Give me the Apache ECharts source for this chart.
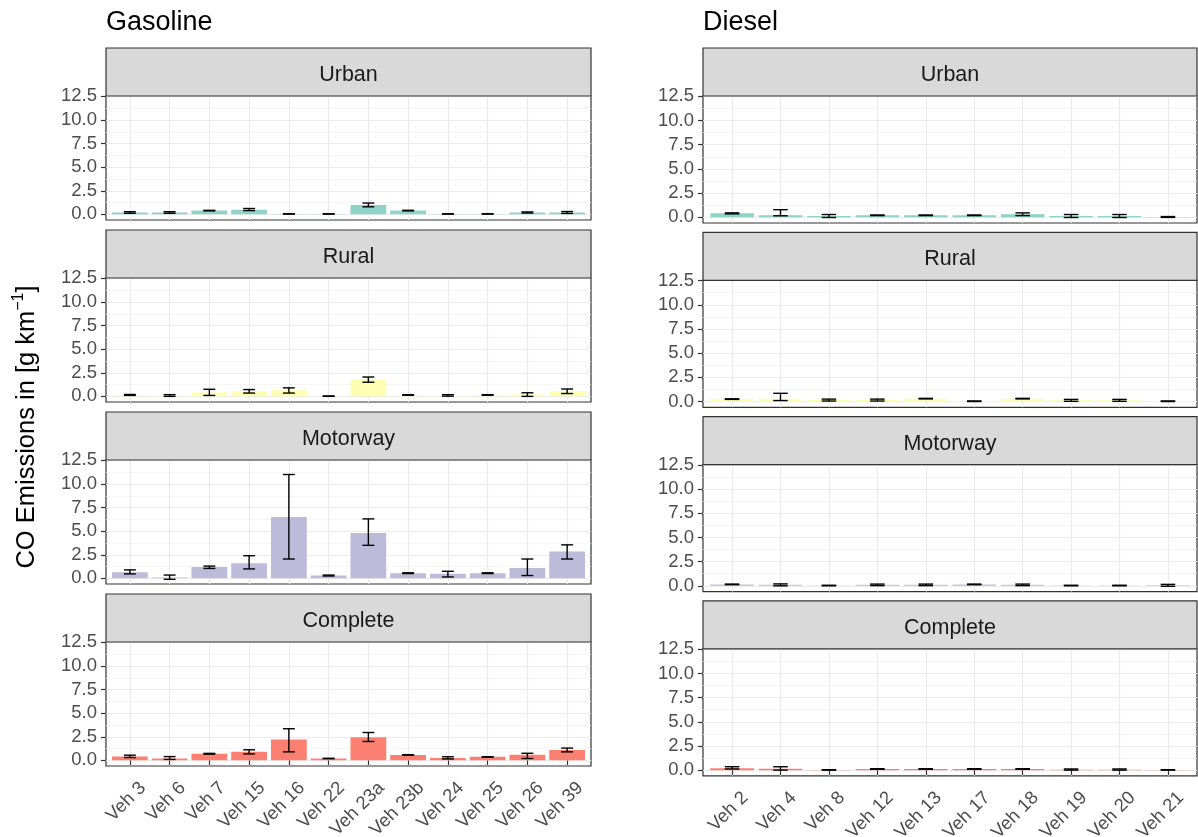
<!DOCTYPE html>
<html><head><meta charset="utf-8">
<script src="https://cdn.jsdelivr.net/npm/echarts@6/dist/echarts.min.js"></script>
<style>html,body{margin:0;padding:0;background:#fff}#c{width:1198px;height:837px}</style>
</head><body><div id="c"></div>
<script>
// ---------- data ----------
const gasolineVehicles = ['Veh 3','Veh 6','Veh 7','Veh 15','Veh 16','Veh 22','Veh 23a','Veh 23b','Veh 24','Veh 25','Veh 26','Veh 39'];
const dieselVehicles = ['Veh 2','Veh 4','Veh 8','Veh 12','Veh 13','Veh 17','Veh 18','Veh 19','Veh 20','Veh 21'];
const cycles = ['Urban','Rural','Motorway','Complete'];
const cycleColors = ['#8DD3C7','#FFFFB3','#BEBADA','#FB8072'];
const yTicks = [0, 2.5, 5, 7.5, 10, 12.5];
const yMinorTicks = [1.25, 3.75, 6.25, 8.75, 11.25];

// Gasoline
const gasUrbanMean = [0.2, 0.2, 0.4, 0.5, 0.05, 0.05, 1.0, 0.4, 0.05, 0.05, 0.2, 0.2];
const gasUrbanLow  = [0.12, 0.12, 0.37, 0.4, 0.03, 0.03, 0.8, 0.37, 0.03, 0.03, 0.14, 0.1];
const gasUrbanHigh = [0.28, 0.28, 0.43, 0.62, 0.07, 0.07, 1.2, 0.43, 0.07, 0.07, 0.26, 0.3];

const gasRuralMean = [0.15, 0.1, 0.4, 0.55, 0.65, 0.02, 1.85, 0.15, 0.1, 0.15, 0.2, 0.55];
const gasRuralLow  = [0.1, 0.0, 0.1, 0.35, 0.35, 0.0, 1.5, 0.12, 0.02, 0.12, 0.0, 0.3];
const gasRuralHigh = [0.2, 0.18, 0.75, 0.72, 0.9, 0.04, 2.05, 0.18, 0.18, 0.18, 0.38, 0.78];

const gasMotorwayMean = [0.65, 0.1, 1.2, 1.6, 6.5, 0.3, 4.8, 0.55, 0.5, 0.55, 1.1, 2.85];
const gasMotorwayLow  = [0.47, -0.1, 1.05, 1.0, 2.05, 0.25, 3.5, 0.51, 0.15, 0.51, 0.3, 2.05];
const gasMotorwayHigh = [0.9, 0.35, 1.3, 2.4, 11.0, 0.35, 6.3, 0.59, 0.75, 0.59, 2.05, 3.55];

const gasCompleteMean = [0.42, 0.2, 0.7, 0.92, 2.2, 0.2, 2.45, 0.58, 0.25, 0.37, 0.6, 1.1];
const gasCompleteLow  = [0.3, 0.1, 0.66, 0.68, 0.9, 0.18, 2.0, 0.56, 0.15, 0.35, 0.2, 0.9];
const gasCompleteHigh = [0.55, 0.4, 0.74, 1.12, 3.35, 0.22, 2.95, 0.6, 0.38, 0.39, 0.75, 1.3];

// Diesel
const dieUrbanMean = [0.4, 0.2, 0.12, 0.2, 0.2, 0.2, 0.3, 0.12, 0.12, 0.03];
const dieUrbanLow  = [0.35, 0.15, -0.03, 0.17, 0.17, 0.17, 0.17, -0.03, -0.03, -0.02];
const dieUrbanHigh = [0.45, 0.78, 0.28, 0.23, 0.23, 0.23, 0.45, 0.28, 0.28, 0.07];

const dieRuralMean = [0.25, 0.3, 0.15, 0.15, 0.3, 0.03, 0.3, 0.12, 0.12, 0.03];
const dieRuralLow  = [0.22, 0.1, 0.05, 0.05, 0.27, 0.0, 0.27, 0.02, 0.02, 0.0];
const dieRuralHigh = [0.28, 0.85, 0.25, 0.25, 0.33, 0.06, 0.33, 0.22, 0.22, 0.06];

const dieMotorwayMean = [0.15, 0.1, 0.03, 0.1, 0.1, 0.15, 0.1, 0.03, 0.03, 0.05];
const dieMotorwayLow  = [0.12, 0.0, 0.0, 0.02, 0.02, 0.12, 0.02, 0.0, 0.0, -0.05];
const dieMotorwayHigh = [0.18, 0.2, 0.06, 0.18, 0.18, 0.18, 0.18, 0.06, 0.06, 0.15];

const dieCompleteMean = [0.2, 0.15, 0.02, 0.12, 0.12, 0.12, 0.12, 0.05, 0.05, 0.02];
const dieCompleteLow  = [0.12, 0.0, 0.0, 0.09, 0.09, 0.09, 0.09, 0.0, 0.0, 0.0];
const dieCompleteHigh = [0.35, 0.35, 0.04, 0.15, 0.15, 0.15, 0.15, 0.12, 0.12, 0.04];

const gasPanels = [
  [gasUrbanMean, gasUrbanLow, gasUrbanHigh],
  [gasRuralMean, gasRuralLow, gasRuralHigh],
  [gasMotorwayMean, gasMotorwayLow, gasMotorwayHigh],
  [gasCompleteMean, gasCompleteLow, gasCompleteHigh]
];
const diePanels = [
  [dieUrbanMean, dieUrbanLow, dieUrbanHigh],
  [dieRuralMean, dieRuralLow, dieRuralHigh],
  [dieMotorwayMean, dieMotorwayLow, dieMotorwayHigh],
  [dieCompleteMean, dieCompleteLow, dieCompleteHigh]
];

// ---------- layout ----------
const columns = [
  { title: 'Gasoline', left: 106, rightEdge: 591, firstStrip: 48, pitch: 182, plotH: 124, vehicles: gasolineVehicles, panels: gasPanels },
  { title: 'Diesel', left: 703, rightEdge: 1197, firstStrip: 48, pitch: 184.3, plotH: 127, vehicles: dieselVehicles, panels: diePanels }
];
const stripH = 48;
const yMin = -0.597, yMax = 12.537;
const labelShiftPx = 13;
const FONT = '"Liberation Sans", Arial, Helvetica, sans-serif';

const grids = [], xAxes = [], yAxes = [], series = [], graphics = [];

columns.forEach((col, ci) => {
  const n = col.vehicles.length;
  const widthPx = col.rightEdge - col.left;
  const unitPx = widthPx / (n + 0.2);
  graphics.push({
    type: 'text', left: col.left, top: 9,
    style: { text: col.title, fontSize: 27, fontFamily: FONT, fill: '#000' }
  });
  col.panels.forEach((pd, ri) => {
    const stripTop = col.firstStrip + ri * col.pitch;
    const plotTop = stripTop + stripH;
    const gi = grids.length;
    grids.push({
      left: col.left, width: widthPx, top: plotTop, height: col.plotH,
      outerBoundsMode: 'none', containLabel: false,
      show: true, borderColor: '#333333', borderWidth: 1.2, backgroundColor: '#fff'
    });
    graphics.push({
      type: 'rect', shape: { x: col.left, y: stripTop, width: widthPx, height: stripH },
      style: { fill: '#D9D9D9', stroke: '#333333', lineWidth: 1.2 }, z: 10
    });
    graphics.push({
      type: 'text', x: col.left + widthPx / 2, y: stripTop + stripH / 2 + 3, z: 11,
      style: { text: cycles[ri], fontSize: 21.5, fontFamily: FONT, fill: '#1A1A1A', textAlign: 'center', textVerticalAlign: 'middle' }
    });
    const bottom = ri === 3;
    const centers = col.vehicles.map((_, i) => i + 1);
    const xMain = xAxes.length;
    xAxes.push({
      type: 'value', gridIndex: gi, min: 0.4, max: n + 0.6, position: 'bottom',
      axisLine: { show: false },
      axisTick: { show: bottom, customValues: centers, length: 5, lineStyle: { color: '#333333', width: 1.2 } },
      axisLabel: { show: false, customValues: centers },
      splitLine: { show: true, lineStyle: { color: '#EBEBEB', width: 1.1 } }
    });
    if (bottom) {
      const du = labelShiftPx / unitPx;
      xAxes.push({
        type: 'value', gridIndex: gi, min: 0.4 - du, max: n + 0.6 - du, position: 'bottom', offset: 0,
        axisLine: { show: false },
        axisTick: { show: false, customValues: centers },
        splitLine: { show: false },
        axisLabel: {
          show: true, customValues: centers, rotate: 45, margin: 19, hideOverlap: false,
          fontSize: 18.5, fontFamily: FONT, color: '#4D4D4D',
          formatter: v => col.vehicles[Math.round(v) - 1] || ''
        }
      });
    }
    const yMain = yAxes.length;
    yAxes.push({
      type: 'value', gridIndex: gi, min: yMin, max: yMax,
      axisLine: { show: false },
      axisTick: { show: true, customValues: yTicks, length: 5, lineStyle: { color: '#333333', width: 1.2 } },
      axisLabel: { customValues: yTicks, fontSize: 18.5, fontFamily: FONT, color: '#4D4D4D', margin: 9, formatter: v => v.toFixed(1) },
      splitLine: { show: true, lineStyle: { color: '#EBEBEB', width: 1.1 } }
    });
    yAxes.push({
      type: 'value', gridIndex: gi, min: yMin, max: yMax, position: 'left',
      axisLine: { show: false },
      axisTick: { show: false, customValues: yMinorTicks },
      axisLabel: { show: false, customValues: yMinorTicks },
      splitLine: { show: true, lineStyle: { color: '#F0F0F0', width: 0.7 } }
    });
    const [mean, low, high] = pd;
    series.push({
      type: 'bar', xAxisIndex: xMain, yAxisIndex: yMain,
      barWidth: unitPx * 0.9,
      itemStyle: { color: cycleColors[ri] },
      data: mean.map((v, i) => [i + 1, v]),
      silent: true, animation: false
    });
    series.push({
      type: 'custom', xAxisIndex: xMain, yAxisIndex: yMain,
      data: mean.map((v, i) => [i + 1, low[i], high[i]]),
      encode: { x: 0, y: [1, 2] },
      silent: true, animation: false, z: 5,
      renderItem: (params, api) => {
        const x = api.value(0);
        const p1 = api.coord([x, api.value(2)]);
        const p2 = api.coord([x, api.value(1)]);
        const half = api.size([0.15, 0])[0];
        const st = { stroke: '#000', lineWidth: 1.4 };
        return {
          type: 'group', children: [
            { type: 'line', shape: { x1: p1[0], y1: p1[1], x2: p2[0], y2: p2[1] }, style: st },
            { type: 'line', shape: { x1: p1[0] - half, y1: p1[1], x2: p1[0] + half, y2: p1[1] }, style: st },
            { type: 'line', shape: { x1: p2[0] - half, y1: p2[1], x2: p2[0] + half, y2: p2[1] }, style: st }
          ]
        };
      }
    });
  });
});

graphics.push({
  type: 'text', x: 27, y: 427, rotation: Math.PI / 2,
  style: {
    text: '{a|CO Emissions in [g km}{s|−1}{a|]}',
    textAlign: 'center', textVerticalAlign: 'middle',
    rich: {
      a: { fontSize: 25.5, fontFamily: FONT, fill: '#000', lineHeight: 32 },
      s: { fontSize: 16, fontFamily: FONT, fill: '#000', verticalAlign: 'top', lineHeight: 32, padding: [0, 0, 12, 0] }
    }
  }
});

const chart = echarts.init(document.getElementById('c'), null, { renderer: 'canvas' });
chart.setOption({
  animation: false,
  backgroundColor: '#fff',
  grid: grids, xAxis: xAxes, yAxis: yAxes, series: series,
  graphic: graphics
});
</script>
</body></html>
